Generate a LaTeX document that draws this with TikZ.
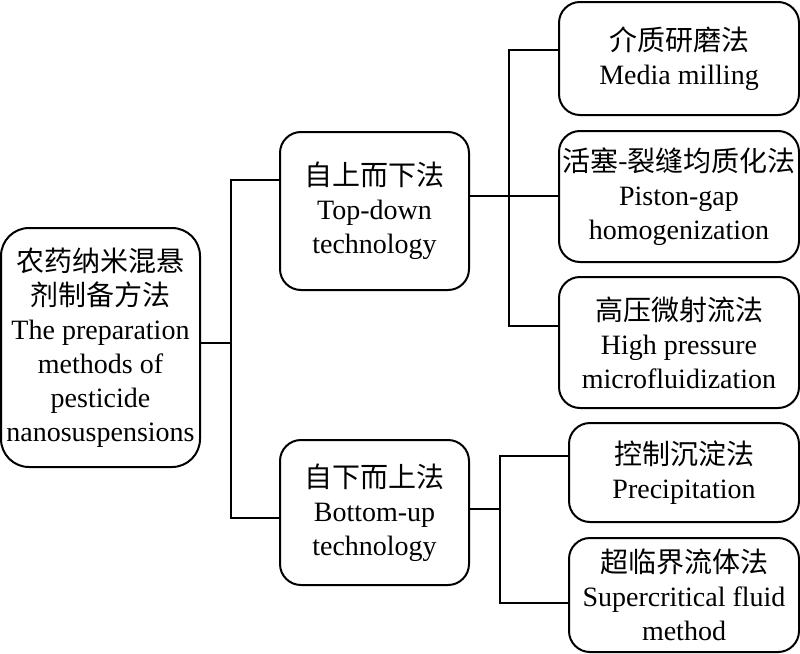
\documentclass[tikz,border=0pt]{standalone}
\usepackage{fontspec}
\setmainfont{Liberation Serif}
\newfontfamily\cjk{Noto Sans CJK SC}
\usepackage{tikz}
\usetikzlibrary{calc,positioning}

\tikzset{
  methodbox/.style={draw=black, line width=2pt, rounded corners=21pt, inner sep=0pt,
                    align=center, font=\fontsize{28}{34}\selectfont},
  branch/.style={draw=black, line width=2pt},
}

\begin{document}
\begin{tikzpicture}[x=1pt, y=-1pt]
\useasboundingbox (0,0) rectangle (800,653);

\node[methodbox, rounded corners=28pt, minimum width=199pt, minimum height=239pt] (root) at (100.5,347.5)
  {{\cjk 农药纳米混悬}\\{\cjk 剂制备方法}\\The preparation\\methods of\\pesticide\\nanosuspensions};

\node[methodbox, minimum width=189pt, minimum height=158pt] (topdown)  at (374.5,211)
  {{\cjk 自上而下法}\\Top-down\\technology};
\node[methodbox, minimum width=189pt, minimum height=145pt] (bottomup) at (374.5,512.5)
  {{\cjk 自下而上法}\\Bottom-up\\technology};

\node[methodbox, minimum width=240pt, minimum height=113pt] (milling)  at (679,58.5)
  {{\cjk 介质研磨法}\\Media milling};
\node[methodbox, minimum width=240pt, minimum height=131pt] (piston)   at (679,196.5)
  {{\cjk 活塞-裂缝均质化法}\\Piston-gap\\homogenization};
\node[methodbox, minimum width=240pt, minimum height=131pt] (highpres) at (679,342.5)
  {{\cjk 高压微射流法}\\High pressure\\microfluidization};
\node[methodbox, minimum width=230pt, minimum height=99pt]  (precip)   at (684,472.5)
  {{\cjk 控制沉淀法}\\Precipitation};
\node[methodbox, minimum width=230pt, minimum height=114pt] (supercf)  at (684,595)
  {{\cjk 超临界流体法}\\Supercritical fluid\\method};

% junction points of the tree
\coordinate (rootj)  at (231,343);
\coordinate (rootjt) at (231,180);
\coordinate (rootjb) at (231,518);
\coordinate (tdj)    at (509,196);
\coordinate (tdjt)   at (509,50);
\coordinate (tdjb)   at (509,326);
\coordinate (buj)    at (500,509);
\coordinate (bujt)   at (500,456);
\coordinate (bujb)   at (500,603);

\draw[branch] (root.east |- rootj) -- (rootj);
\draw[branch] (rootjt -| topdown.west) -- (rootjt) -- (rootjb) -- (rootjb -| bottomup.west);

\draw[branch] (topdown.east |- tdj) -- (tdj) -- (tdj -| piston.west);
\draw[branch] (tdjt -| milling.west) -- (tdjt) -- (tdjb) -- (tdjb -| highpres.west);

\draw[branch] (bottomup.east |- buj) -- (buj);
\draw[branch] (bujt -| precip.west) -- (bujt) -- (bujb) -- (bujb -| supercf.west);
\end{tikzpicture}
\end{document}
